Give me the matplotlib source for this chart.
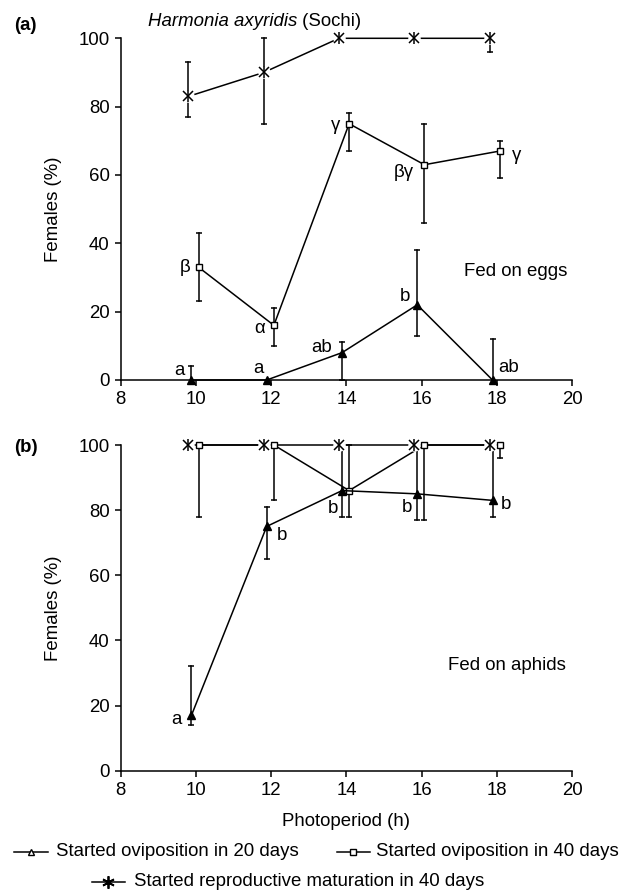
import matplotlib
matplotlib.use('Agg')
import matplotlib.pyplot as plt
from matplotlib.lines import Line2D

plt.rcParams['font.family'] = ['Liberation Sans', 'DejaVu Sans']

# ---------------- data ----------------
photoperiod = [10, 12, 14, 16, 18]
x_ticks = [8, 10, 12, 14, 16, 18, 20]
y_ticks = [0, 20, 40, 60, 80, 100]

# (a) Fed on eggs
eggs_ovi20 = [0, 0, 8, 22, 0]
eggs_ovi20_low = [0, 0, 0, 13, 0]
eggs_ovi20_high = [4, 0, 11, 38, 12]
eggs_ovi20_letters = ['a', 'a', 'ab', 'b', 'ab']

eggs_ovi40 = [33, 16, 75, 63, 67]
eggs_ovi40_low = [23, 10, 67, 46, 59]
eggs_ovi40_high = [43, 21, 78, 75, 70]
eggs_ovi40_letters = ['β', 'α', 'γ', 'βγ', 'γ']

eggs_mat40 = [83, 90, 100, 100, 100]
eggs_mat40_low = [77, 75, 100, 100, 96]
eggs_mat40_high = [93, 100, 100, 100, 100]

# (b) Fed on aphids
aph_ovi20 = [17, 75, 86, 85, 83]
aph_ovi20_low = [14, 65, 78, 77, 78]
aph_ovi20_high = [32, 81, 100, 100, 100]
aph_ovi20_letters = ['a', 'b', 'b', 'b', 'b']

aph_ovi40 = [100, 100, 86, 100, 100]
aph_ovi40_low = [78, 83, 78, 77, 96]
aph_ovi40_high = [100, 100, 100, 100, 100]

aph_mat40 = [100, 100, 100, 100, 100]
aph_mat40_low = [100, 100, 100, 100, 100]
aph_mat40_high = [100, 100, 100, 100, 100]

legend_labels = ['Started oviposition in 20 days',
                 'Started oviposition in 40 days',
                 'Started reproductive maturation in 40 days']

# ---------------- style ----------------
FS = 13.4
LW = 1.1
CAP = 4.8
OFF_TRI, OFF_SQ, OFF_AST = -0.12, 0.07, -0.2
tri_style = dict(marker='^', ms=6, mfc='black', mec='black', mew=1)
sq_style = dict(marker='s', ms=5, mfc='white', mec='black', mew=1)

eggs_ovi20_lab_off = [(-0.33, 2.9), (-0.23, 3.4), (-0.53, 1.4), (-0.33, 2.4), (0.43, 3.8)]
eggs_ovi40_lab_off = [(-0.35, 0.0), (-0.39, -1.0), (-0.37, -0.6), (-0.54, -2.3), (0.45, -1.2)]
aph_ovi20_lab_off = [(-0.40, -1.2), (0.41, -2.9), (-0.23, -5.4), (-0.27, -4.1), (0.37, -1.2)]

W, H = 626, 893
fig = plt.figure(figsize=(W / 100, H / 100), dpi=100)

def px_x(x):
    return x / W

def px_y(y):
    return 1 - y / H

ax_left = 120.7
ax_right = 572.3
axA = fig.add_axes([px_x(ax_left), px_y(380.0), (ax_right - ax_left) / W, (380.0 - 38.3) / H])
axB = fig.add_axes([px_x(ax_left), px_y(770.7), (ax_right - ax_left) / W, (770.7 - 445.0) / H])


def draw_errors(ax, xs, ys, lows, highs):
    for x, y, lo, hi in zip(xs, ys, lows, highs):
        for end in (lo, hi):
            if end != y:
                ax.plot([x, x], [y, end], color='black', lw=LW, zorder=2, clip_on=False)
                ax.plot([x], [end], marker='_', ms=CAP, mew=LW, color='black',
                        zorder=2, clip_on=False)


def draw_series(ax, vals, lows, highs, off, style):
    xs = [p + off for p in photoperiod]
    draw_errors(ax, xs, vals, lows, highs)
    ax.plot(xs, vals, color='black', lw=LW, zorder=3, clip_on=False, **style)
    return xs


def draw_asterisk_series(ax, vals, lows, highs, off):
    xs = [p + off for p in photoperiod]
    draw_errors(ax, xs, vals, lows, highs)
    ax.plot(xs, vals, color='black', lw=LW, zorder=3, clip_on=False)
    # white halo, then "x" + "|" asterisk
    ax.plot(xs, vals, ls='none', marker='o', ms=9, mfc='white', mec='none', zorder=4, clip_on=False)
    ax.plot(xs, vals, ls='none', marker='x', ms=7, mec='black', mew=1.1, zorder=5, clip_on=False)
    ax.plot(xs, vals, ls='none', marker='|', ms=8, mec='black', mew=1.1, zorder=5, clip_on=False)
    return xs


def draw_letters(ax, xs, vals, letters, offs):
    for x, y, t, (dx, dy) in zip(xs, vals, letters, offs):
        ax.text(x + dx, y + dy, t, fontsize=FS, ha='center', va='center', zorder=6)


def style_axes(ax):
    ax.set_xlim(8, 20)
    ax.set_ylim(0, 100)
    ax.set_xticks(x_ticks)
    ax.set_yticks(y_ticks)
    for s in ('top', 'right'):
        ax.spines[s].set_visible(False)
    for s in ('left', 'bottom'):
        ax.spines[s].set_linewidth(LW)
    ax.tick_params(direction='out', length=4, width=LW, labelsize=FS, pad=4)
    ax.patch.set_alpha(0)


# Panel (a)
draw_asterisk_series(axA, eggs_mat40, eggs_mat40_low, eggs_mat40_high, OFF_AST)
xs = draw_series(axA, eggs_ovi40, eggs_ovi40_low, eggs_ovi40_high, OFF_SQ, sq_style)
draw_letters(axA, xs, eggs_ovi40, eggs_ovi40_letters, eggs_ovi40_lab_off)
xs = draw_series(axA, eggs_ovi20, eggs_ovi20_low, eggs_ovi20_high, OFF_TRI, tri_style)
draw_letters(axA, xs, eggs_ovi20, eggs_ovi20_letters, eggs_ovi20_lab_off)
axA.text(18.49, 31.7, 'Fed on eggs', fontsize=FS, ha='center', va='center')
style_axes(axA)

# Panel (b)
draw_asterisk_series(axB, aph_mat40, aph_mat40_low, aph_mat40_high, OFF_AST)
xs = draw_series(axB, aph_ovi40, aph_ovi40_low, aph_ovi40_high, OFF_SQ, sq_style)
xs = draw_series(axB, aph_ovi20, aph_ovi20_low, aph_ovi20_high, OFF_TRI, tri_style)
draw_letters(axB, xs, aph_ovi20, aph_ovi20_letters, aph_ovi20_lab_off)
axB.text(18.25, 32.2, 'Fed on aphids', fontsize=FS, ha='center', va='center')
style_axes(axB)
axB.set_xlabel('Photoperiod (h)', fontsize=FS, labelpad=10)

# y labels
fig.text(px_x(54), px_y(209), 'Females (%)', rotation=90, fontsize=FS, ha='center', va='center')
fig.text(px_x(54), px_y(608), 'Females (%)', rotation=90, fontsize=FS, ha='center', va='center')

# panel letters and title
fig.text(px_x(14), px_y(25), '(a)', fontsize=FS, fontweight='bold', ha='left', va='center')
fig.text(px_x(14), px_y(448), '(b)', fontsize=FS, fontweight='bold', ha='left', va='center')
fig.text(px_x(297), px_y(21), 'Harmonia axyridis', fontsize=FS, style='italic', ha='right', va='center')
fig.text(px_x(297), px_y(21), ' (Sochi)', fontsize=FS, ha='left', va='center')

# legend (manual)
leg_tri = dict(marker='^', ms=4.5, mfc='white', mec='black', mew=1)
leg_sq = dict(marker='s', ms=5, mfc='white', mec='black', mew=1)
leg_ast = dict(marker=(6, 2, 0), ms=9, mfc='black', mec='black', mew=1.3)
legend_entries = [
    (14, 48, 852, leg_tri, 56, legend_labels[0]),
    (337, 369.5, 852, leg_sq, 375.5, legend_labels[1]),
    (91.6, 124.5, 882, leg_ast, 134, legend_labels[2]),
]
for x0, x1, y, st, tx, lab in legend_entries:
    fig.add_artist(Line2D([px_x(x0), px_x(x1)], [px_y(y), px_y(y)], color='black', lw=LW,
                          transform=fig.transFigure))
    fig.add_artist(Line2D([px_x((x0 + x1) / 2)], [px_y(y)], color='black', lw=0,
                          transform=fig.transFigure, **st))
    fig.text(px_x(tx), px_y(y), lab, fontsize=FS, ha='left', va='center')

fig.savefig('out.png', dpi=100)
